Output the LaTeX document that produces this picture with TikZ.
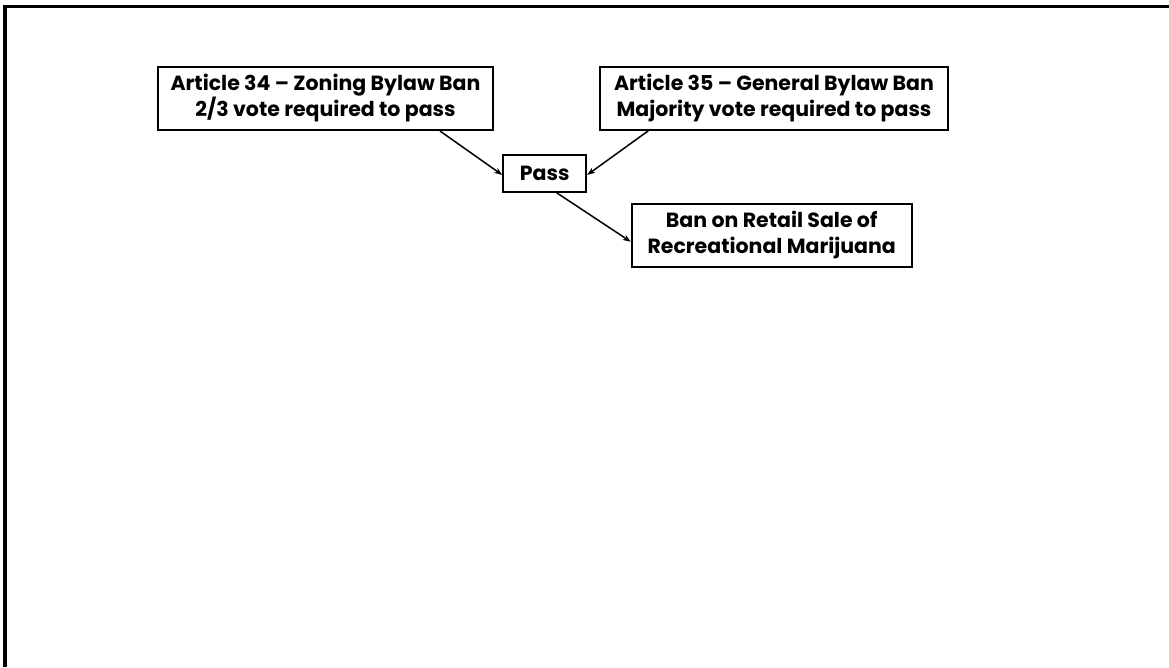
\documentclass[tikz,border=0pt]{standalone}
\usepackage{fontspec}
\setmainfont{Poppins}
\usetikzlibrary{arrows.meta}
\begin{document}
\begin{tikzpicture}[x=1pt,y=-1pt,
  box/.style={draw=black,line width=2pt,fill=white,align=center,inner sep=0pt,
    font=\fontsize{20.5}{26}\selectfont\bfseries},
  conn/.style={line width=1.5pt,-{Stealth[length=8pt,width=6pt]}}]
\useasboundingbox (0,0) rectangle (1169,667);
\draw[line width=3.5pt] (5,667) -- (5,6.5) -- (1169,6.5);
\node[box,minimum width=335pt,minimum height=63pt] (b1) at (325.5,98.5) {Article 34 – Zoning Bylaw Ban\\2/3 vote required to pass};
\node[box,minimum width=348pt,minimum height=63pt] (b2) at (774,98.3) {Article 35 – General Bylaw Ban\\Majority vote required to pass};
\node[box,minimum width=83pt,minimum height=37pt] (pass) at (544.7,173.3) {Pass};
\node[box,minimum width=280pt,minimum height=63pt] (ban) at (771.7,235) {Ban on Retail Sale of\\Recreational Marijuana};
\draw[conn] ([xshift=114.5pt]b1.south) -- ([yshift=-1.6pt]pass.west);
\draw[conn] ([xshift=-125.7pt]b2.south) -- ([yshift=-1.6pt]pass.east);
\draw[conn] ([xshift=12pt]pass.south) -- ([yshift=-6.7pt]ban.west);
\end{tikzpicture}
\end{document}
